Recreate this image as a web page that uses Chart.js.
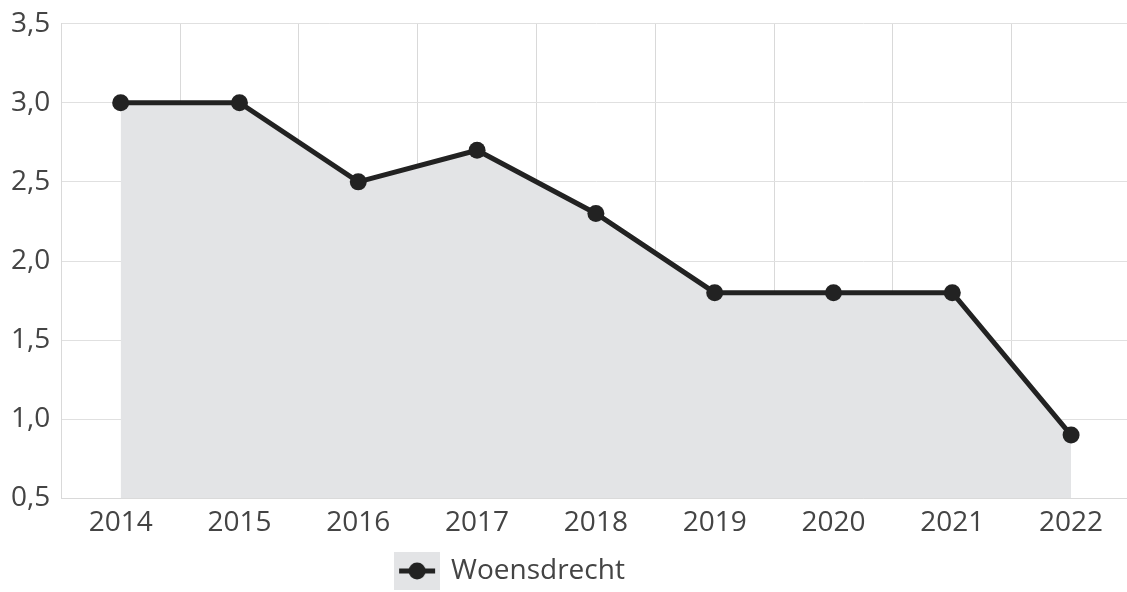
<!DOCTYPE html>
<html>
<head>
<meta charset="utf-8">
<title>Woensdrecht</title>
<script src="https://cdn.jsdelivr.net/npm/chart.js@4.4.1/dist/chart.umd.min.js"></script>
<style>
  html, body { margin: 0; padding: 0; background: #fff; overflow: hidden; }
  #wrap { position: relative; width: 1139px; height: 592px; }
</style>
</head>
<body>
<div id="wrap"><canvas id="myChart"></canvas></div>
<script>
var jaren = ["2014", "2015", "2016", "2017", "2018", "2019", "2020", "2021", "2022"];
var waarden = [3.0, 3.0, 2.5, 2.7, 2.3, 1.8, 1.8, 1.8, 0.9];
var yMin = 0.5, yMax = 3.5, yStap = 0.5;

var lijnKleur = "#222222";
var vulKleur = "#e3e4e6";

// legend icon: grey box with the line and a dot through it
function legendaIcoon() {
    var c = document.createElement("canvas");
    c.width = 46; c.height = 38;
    var ctx = c.getContext("2d");
    ctx.fillStyle = vulKleur;
    ctx.fillRect(0, 0, 46, 38);
    ctx.strokeStyle = lijnKleur;
    ctx.lineWidth = 5;
    ctx.beginPath();
    ctx.moveTo(5, 19); ctx.lineTo(41, 19);
    ctx.stroke();
    ctx.fillStyle = lijnKleur;
    ctx.beginPath();
    ctx.arc(23, 19, 8.5, 0, Math.PI * 2);
    ctx.fill();
    return c;
}

// the legend sits a bit left of the middle
var legendaSmaller = {
    id: "legendaSmaller",
    afterLayout: function(chart) {
        if (!chart.legend) return;
        chart.legend.right = chart.legend.left + 1022;
        chart.legend.top += 3;
    },
};

Chart.defaults.font.family = "'Open Sans', 'Noto Sans', sans-serif";
Chart.defaults.color = "#444";

var s = document.getElementById("myChart").getContext("2d");
new Chart(s, {
    type: "line",
    plugins: [legendaSmaller],
    data: {
        labels: jaren,
        datasets: [{
            label: "Woensdrecht",
            data: waarden,
            borderColor: lijnKleur,
            backgroundColor: vulKleur,
            borderWidth: 5,
            fill: "start",
            tension: 0,
            pointRadius: 8.5,
            pointBackgroundColor: lijnKleur,
            pointBorderColor: lijnKleur,
            pointBorderWidth: 0,
        }, ],
    },
    options: {
        responsive: true,
        maintainAspectRatio: false,
        animation: false,
        layout: { padding: { top: 2, right: 0, left: 0, bottom: 0 } },
        plugins: {
            tooltip: { enabled: false },
            legend: {
                position: "bottom",
                labels: {
                    usePointStyle: true,
                    pointStyleWidth: 40,
                    font: { size: 28 },
                    padding: 6,
                    generateLabels: function(chart) {
                        return [{
                            text: "Woensdrecht",
                            pointStyle: legendaIcoon(),
                            fontColor: "#444",
                            datasetIndex: 0,
                            hidden: false,
                            lineWidth: 0,
                        }];
                    },
                },
            },
        },
        scales: {
            x: {
                offset: true,
                grid: { offset: true, color: "#d9d9d9", drawTicks: false },
                border: { color: "#d9d9d9" },
                ticks: { font: { size: 28 }, padding: 8, maxRotation: 0 },
            },
            y: {
                min: yMin,
                max: yMax,
                grid: { color: "#e0e0e0", drawTicks: false },
                border: { color: "#d9d9d9" },
                ticks: {
                    stepSize: yStap,
                    font: { size: 28, lineHeight: 0.9 },
                    padding: 11,
                    callback: function(v) { return v.toFixed(1).replace(".", ","); },
                },
            },
        },
    },
});
</script>
</body>
</html>
